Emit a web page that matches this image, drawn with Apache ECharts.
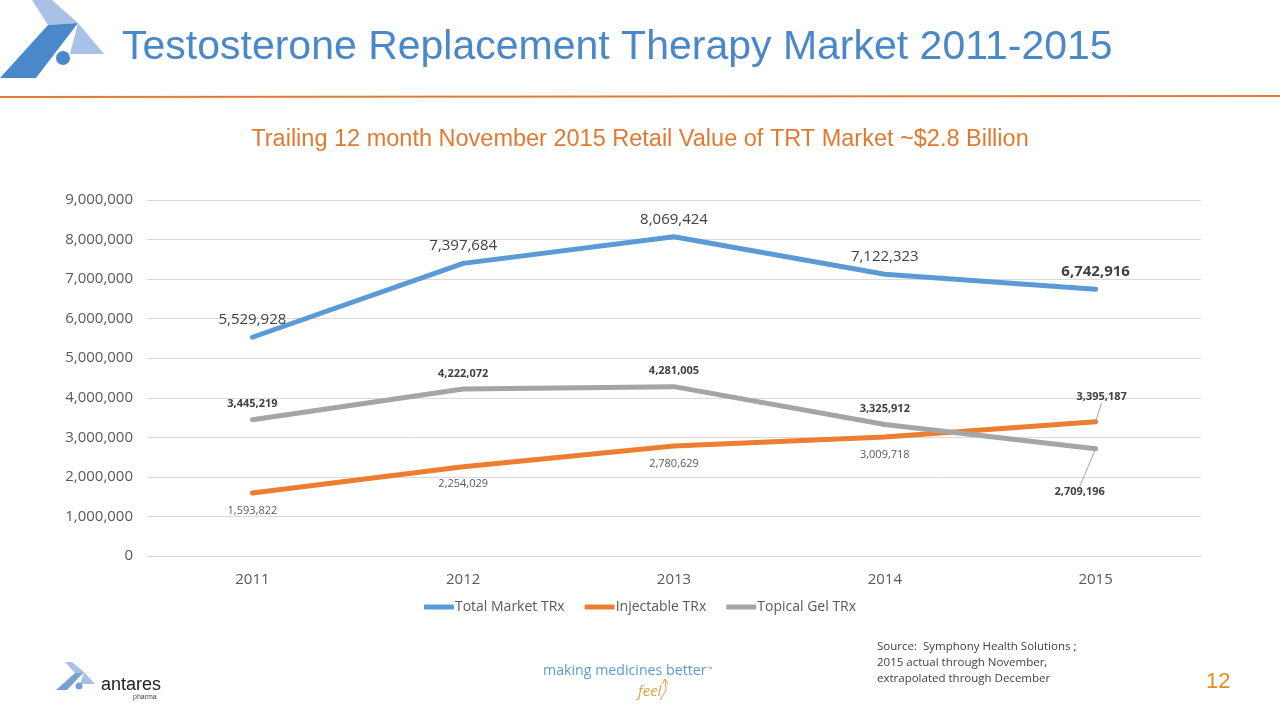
<!DOCTYPE html>
<html><head><meta charset="utf-8">
<script src="https://cdn.jsdelivr.net/npm/echarts@6/dist/echarts.min.js"></script>
<style>html,body{margin:0;padding:0;background:#fff}#c{width:1280px;height:720px}</style>
</head><body><div id="c"></div>
<script>
const years = ['2011','2012','2013','2014','2015'];
const totalTRx = [5529928, 7397684, 8069424, 7122323, 6742916];
const injectableTRx = [1593822, 2254029, 2780629, 3009718, 3395187];
const topicalGelTRx = [3445219, 4222072, 4281005, 3325912, 2709196];
const yTicks = [0, 9000000, 1000000];
const seriesNames = ['Total Market TRx', 'Injectable TRx', 'Topical Gel TRx'];

const fmt = v => v.toLocaleString('en-US');
const chart = echarts.init(document.getElementById('c'));
const FONT = 'Liberation Sans, Arial, sans-serif';
const LBL = 'Open Sans, Liberation Sans, sans-serif';

function mkData(arr, cfg) {
  return arr.map((v, i) => ({ value: v, label: cfg(i),
    labelLine: { show: i === arr.length - 1, lineStyle: { color: '#a5a5a5', width: 1 } } }));
}
const sym = { symbol: 'circle', symbolSize: 0.01, showSymbol: true };

chart.setOption({
  animation: false,
  textStyle: { fontFamily: LBL },
  grid: { left: 147, right: 79, top: 200, bottom: 164, containLabel: false },
  legend: {
    bottom: 101, left: 'center', itemWidth: 30, itemHeight: 5, itemGap: 20,
    icon: 'roundRect',
    textStyle: { fontSize: 14, color: '#595959', fontFamily: LBL, padding: [0, 0, 0, -4] },
    data: seriesNames
  },
  xAxis: {
    type: 'category', data: years, boundaryGap: true,
    axisLine: { lineStyle: { color: '#d9d9d9' } }, axisTick: { show: false },
    axisLabel: { fontSize: 15, color: '#595959', margin: 16, fontFamily: LBL }
  },
  yAxis: {
    type: 'value', min: yTicks[0], max: yTicks[1], interval: yTicks[2],
    axisLine: { show: false }, axisTick: { show: false },
    splitLine: { lineStyle: { color: '#d9d9d9' } },
    axisLabel: { fontSize: 15, color: '#595959', margin: 14, formatter: v => fmt(v), fontFamily: LBL }
  },
  series: [
    Object.assign({
      name: seriesNames[0], type: 'line',
      lineStyle: { width: 5, color: '#5b9bd5', cap: 'round', join: 'round' }, itemStyle: { color: '#5b9bd5' },
      data: totalTRx.map((v, i) => ({ value: v, label: { show: true, position: 'top', distance: 10, fontSize: 15, color: '#404040',
        fontWeight: i === 4 ? 'bold' : 'normal', formatter: p => fmt(p.value) } }))
    }, sym),
    Object.assign({
      name: seriesNames[1], type: 'line',
      lineStyle: { width: 5, color: '#ed7d31', cap: 'round', join: 'round' }, itemStyle: { color: '#ed7d31' },
      labelLayout: p => p.dataIndex === 4 ? { dx: 6, dy: -9 } : {},
      data: mkData(injectableTRx, i => ({ show: true, position: i === 4 ? 'top' : 'bottom', distance: i === 4 ? 10 : 12, fontSize: 11,
        color: i === 4 ? '#404040' : '#595959', fontWeight: i === 4 ? 'bold' : 'normal', formatter: p => fmt(p.value) }))
    }, sym),
    Object.assign({
      name: seriesNames[2], type: 'line',
      lineStyle: { width: 5, color: '#a5a5a5', cap: 'round', join: 'round' }, itemStyle: { color: '#a5a5a5' },
      labelLayout: p => p.dataIndex === 4 ? { dx: -16, dy: 28 } : {},
      data: mkData(topicalGelTRx, i => ({ show: true, position: i === 4 ? 'bottom' : 'top', distance: 10, fontSize: 11,
        color: '#404040', fontWeight: 'bold', formatter: p => fmt(p.value) }))
    }, sym)
  ],
  graphic: [
    // top-left logo
    { type: 'polygon', shape: { points: [[32,0],[52,0],[78,23],[48,25]] }, style: { fill: '#a9c1e6' } },
    { type: 'polygon', shape: { points: [[48,25],[78,23],[36,78],[0,78]] }, style: { fill: '#4a88c9' } },
    { type: 'polygon', shape: { points: [[78,23],[104,54],[70,54]] }, style: { fill: '#a9c1e6' } },
    { type: 'circle', shape: { cx: 63, cy: 58, r: 7 }, style: { fill: '#4a88c9' } },
    // title
    { type: 'text', left: 122, top: 27, style: { text: 'Testosterone Replacement Therapy Market 2011-2015', fill: '#4a88c9', font: '41px ' + FONT } },
    { type: 'line', shape: { x1: 0, y1: 97, x2: 1280, y2: 96 }, style: { stroke: '#e07b39', lineWidth: 2 } },
    // subtitle
    { type: 'text', left: 'center', top: 128, style: { text: 'Trailing 12 month November 2015 Retail Value of TRT Market ~$2.8 Billion', fill: '#e07a30', font: '23.5px ' + FONT } },
    // source
    { type: 'text', left: 877, top: 639, style: { text: 'Source:  Symphony Health Solutions ;\n2015 actual through November,\nextrapolated through December', fill: '#404040', font: '11.5px ' + LBL, lineHeight: 16 } },
    { type: 'text', left: 1206, top: 671, style: { text: '12', fill: '#e0901c', font: '22px ' + FONT } },
    // bottom logo
    { type: 'polygon', shape: { points: [[65,662],[72,662],[84,672],[75,673]] }, style: { fill: '#a9c1e6' } },
    { type: 'polygon', shape: { points: [[75,673],[84,672],[67,690],[56,690]] }, style: { fill: '#7a9fd4' } },
    { type: 'polygon', shape: { points: [[84,672],[95,684],[80,684]] }, style: { fill: '#a9c1e6' } },
    { type: 'circle', shape: { cx: 79, cy: 686, r: 3.5 }, style: { fill: '#7a9fd4' } },
    { type: 'text', left: 101, top: 676, style: { text: 'antares', fill: '#222', font: '18px ' + FONT } },
    { type: 'text', left: 133, top: 694, style: { text: 'pharma', fill: '#444', font: '7px ' + FONT } },
    // tagline
    { type: 'text', left: 543, top: 664, style: { text: 'making medicines better', fill: '#5b9bd5', font: '14.2px ' + LBL } },
    { type: 'text', left: 708, top: 666, style: { text: '™', fill: '#5b9bd5', font: '6px ' + LBL } },
    { type: 'text', left: 638, top: 684, style: { text: 'feel', fill: '#e6a040', font: 'italic 15px ' + LBL } },
    { type: 'polyline', shape: { points: [[660,700],[666,690],[665,680]] }, style: { stroke: '#e6a040', lineWidth: 1, fill: null } },
    { type: 'polyline', shape: { points: [[662,684],[665,679],[668,684]] }, style: { stroke: '#e6a040', lineWidth: 1, fill: null } }
  ]
});
</script></body></html>
